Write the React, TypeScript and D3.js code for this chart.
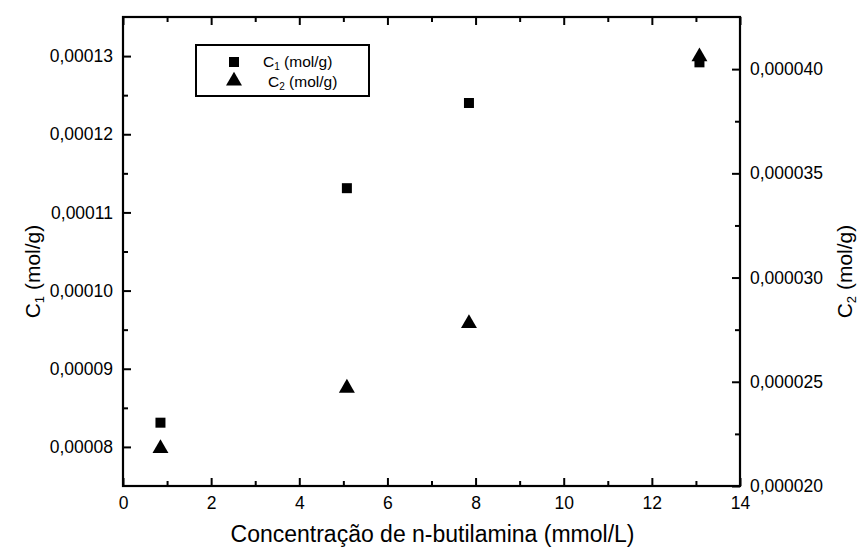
import React, { useEffect, useRef } from 'react';
import * as d3 from 'd3';

// concentration of n-butylamine (mmol/L)
const concentrations = [0.85, 5.08, 7.85, 13.08];
// C1 (mol/g) - left axis
const c1Values = [0.0000831, 0.0001131, 0.000124, 0.0001292];
// C2 (mol/g) - right axis
const c2Values = [0.0000218, 0.0000247, 0.0000278, 0.0000406];

const xMajor = [0, 2, 4, 6, 8, 10, 12, 14];
const xMinor = [1, 3, 5, 7, 9, 11, 13];
const leftMajor = [0.00008, 0.00009, 0.0001, 0.00011, 0.00012, 0.00013];
const leftMinor = [0.000085, 0.000095, 0.000105, 0.000115, 0.000125];
const rightMajor = [0.00002, 0.000025, 0.00003, 0.000035, 0.00004];
const rightMinor = [0.0000225, 0.0000275, 0.0000325, 0.0000375];

const W = 860;
const H = 550;
const box = { left: 123, right: 740, top: 17, bottom: 486 };
const FONT = 'Arial, "Liberation Sans", sans-serif';

const App = () => {
    const container = useRef<SVGSVGElement>(null);

    useEffect(() => {
        if (!container.current) return;
        const svg = d3.select(container.current);
        svg.selectAll('*').remove();

        const x = d3.scaleLinear().domain([0, 14]).range([box.left, box.right]);
        const yL = d3.scaleLinear().domain([0.000075, 0.000135]).range([box.bottom, box.top]);
        const yR = d3.scaleLinear().domain([0.00002, 0.0000425]).range([box.bottom, box.top]);

        const fmtL = (d: any) => d3.format('.5f')(d).replace('.', ',');
        const fmtR = (d: any) => d3.format('.6f')(d).replace('.', ',');

        const styleAxis = (g: any) => {
            g.select('.domain').remove();
            g.selectAll('line').attr('stroke', '#000').attr('stroke-width', 2);
            g.selectAll('text').attr('fill', '#000').style('font-family', FONT).style('font-size', '17.5px');
        };

        // bottom
        svg.append('g').attr('transform', `translate(0,${box.bottom})`)
            .call(d3.axisBottom(x).tickValues(xMajor).tickSize(-8).tickPadding(11).tickFormat((d: any) => String(d)))
            .call(styleAxis);
        svg.append('g').attr('transform', `translate(0,${box.bottom})`)
            .call(d3.axisBottom(x).tickValues(xMinor).tickSize(-5).tickFormat(() => ''))
            .call(styleAxis);
        // top
        svg.append('g').attr('transform', `translate(0,${box.top})`)
            .call(d3.axisTop(x).tickValues(xMajor).tickSize(-8).tickFormat(() => ''))
            .call(styleAxis);
        svg.append('g').attr('transform', `translate(0,${box.top})`)
            .call(d3.axisTop(x).tickValues(xMinor).tickSize(-5).tickFormat(() => ''))
            .call(styleAxis);
        // left
        svg.append('g').attr('transform', `translate(${box.left},0)`)
            .call(d3.axisLeft(yL).tickValues(leftMajor).tickSize(-8).tickPadding(10).tickFormat(fmtL))
            .call(styleAxis);
        svg.append('g').attr('transform', `translate(${box.left},0)`)
            .call(d3.axisLeft(yL).tickValues(leftMinor).tickSize(-5).tickFormat(() => ''))
            .call(styleAxis);
        // right
        svg.append('g').attr('transform', `translate(${box.right},0)`)
            .call(d3.axisRight(yR).tickValues(rightMajor).tickSize(-8).tickPadding(10).tickFormat(fmtR))
            .call(styleAxis);
        svg.append('g').attr('transform', `translate(${box.right},0)`)
            .call(d3.axisRight(yR).tickValues(rightMinor).tickSize(-5).tickFormat(() => ''))
            .call(styleAxis);

        // frame
        svg.append('rect')
            .attr('x', box.left).attr('y', box.top)
            .attr('width', box.right - box.left).attr('height', box.bottom - box.top)
            .attr('fill', 'none').attr('stroke', '#000').attr('stroke-width', 2.2);

        const square = d3.symbol().type(d3.symbolSquare).size(100);
        const triangle = d3.symbol().type(d3.symbolTriangle).size(110);

        svg.append('g').selectAll('path')
            .data(concentrations)
            .join('path')
            .attr('d', square as any)
            .attr('transform', (d, i) => `translate(${x(d)},${yL(c1Values[i])})`)
            .attr('fill', '#000');

        svg.append('g').selectAll('path')
            .data(concentrations)
            .join('path')
            .attr('d', triangle as any)
            .attr('transform', (d, i) => `translate(${x(d)},${yR(c2Values[i])})`)
            .attr('fill', '#000');

        // legend
        const lg = svg.append('g');
        lg.append('rect').attr('x', 196).attr('y', 45).attr('width', 173).attr('height', 51)
            .attr('fill', '#fff').attr('stroke', '#000').attr('stroke-width', 2);
        lg.append('path').attr('d', square as any).attr('transform', 'translate(234,62)').attr('fill', '#000');
        lg.append('path').attr('d', triangle as any).attr('transform', 'translate(234,81)').attr('fill', '#000');
        const legendText = (tx: number, ty: number, sub: string) => {
            const t = lg.append('text').attr('x', tx).attr('y', ty)
                .style('font-family', FONT).style('font-size', '15.5px').attr('fill', '#000');
            t.append('tspan').text('C');
            t.append('tspan').text(sub).attr('dy', 3).style('font-size', '10px');
            t.append('tspan').text(' (mol/g)').attr('dy', -3);
        };
        legendText(263, 67, '1');
        legendText(268, 87, '2');

        // axis titles
        svg.append('text').attr('x', (box.left + box.right) / 2 + 1).attr('y', 542)
            .attr('text-anchor', 'middle').style('font-family', FONT).style('font-size', '23px')
            .attr('fill', '#000').text('Concentração de n-butilamina (mmol/L)');

        const vTitle = (tx: number, sub: string) => {
            const t = svg.append('text')
                .attr('transform', `translate(${tx},${(box.top + box.bottom) / 2 + 20}) rotate(-90)`)
                .attr('text-anchor', 'middle').style('font-family', FONT).attr('fill', '#000');
            t.append('tspan').text('C').style('font-size', '21px');
            t.append('tspan').text(sub).attr('dy', 4).style('font-size', '13px');
            t.append('tspan').text(' (mol/g)').attr('dy', -4).style('font-size', '21px');
        };
        vTitle(40, '1');
        vTitle(852, '2');
    }, []);

    return (
        <svg ref={container} width={W} height={H}
            style={{ position: 'absolute', left: 0, top: 0, background: '#fff' }} />
    );
};

export default App;
